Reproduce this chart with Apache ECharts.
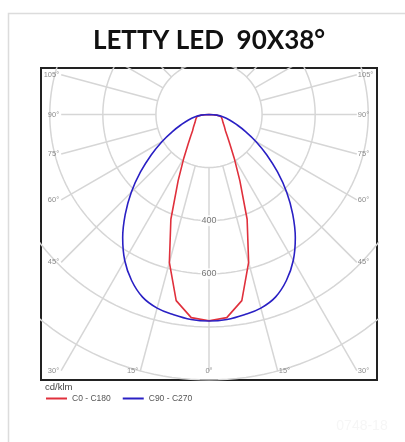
<!DOCTYPE html>
<html>
<head>
<meta charset="utf-8">
<script src="https://cdn.jsdelivr.net/npm/echarts@6/dist/echarts.min.js"></script>
<style>
  html, body { margin: 0; padding: 0; background: #fff; }
  #chart { width: 405px; height: 442px; }
</style>
</head>
<body>
<div id="chart"></div>
<script>
// angles from nadir, degrees
const angles = [0, 5, 10, 15, 20, 25, 30, 35, 40, 45, 50, 55, 60, 65, 70, 75, 80, 85, 90];
// cd/klm
const c0   = [777, 768, 712, 577, 420, 275, 190, 138, 108, 88, 77, 68, 61, 57, 53, 50, 46, 30, 0];
const c180 = [777, 768, 712, 577, 420, 275, 190, 138, 108, 88, 77, 68, 61, 57, 53, 50, 46, 30, 0];
const c90  = [778, 775, 766, 755, 732, 690, 635, 567, 491, 414, 337, 266, 205, 152, 110, 80, 55, 30, 0];
const c270 = [778, 775, 766, 755, 732, 690, 635, 567, 491, 414, 337, 266, 205, 152, 110, 80, 55, 30, 0];

const rings = [200, 400, 600, 800, 1000];
const ringLabels = [400, 600];
const spokes = [0, 15, 30, 45, 60, 75, 90, 105, 120, 135, 150, 165, 180];
const angleTicks = [0, 15, 30, 45, 60, 75, 90, 105];

const RED = '#e0303c';
const BLUE = '#2a20c4';
const GRIDC = '#d6d6d6';

// where spokes stop (label spot), in cd/klm
const XLIM = 557, YLIM = 967;

function rad(a) { return a * Math.PI / 180; }
function pt(r, a, side) { return [side * r * Math.sin(rad(a)), -r * Math.cos(rad(a))]; }

// one curve through both half planes
function curve(left, right) {
    let out = [];
    for (let i = angles.length - 1; i >= 0; i--) out.push(pt(left[i], angles[i], -1));
    for (let i = 1; i < angles.length; i++) out.push(pt(right[i], angles[i], 1));
    return out;
}

function spokeEnd(a) {
    let s = Math.abs(Math.sin(rad(a))), c = Math.cos(rad(a));
    let t = 3000;
    if (s > 1e-6) t = Math.min(t, XLIM / s);
    if (c > 1e-6) t = Math.min(t, YLIM / c);
    return t;
}

let series = [];

// rings
rings.forEach(function (R) {
    let d = [];
    for (let a = 0; a <= 360; a += 2) d.push(pt(R, a, 1));
    series.push({
        type: 'line', data: d, showSymbol: false, silent: true, z: 1,
        lineStyle: { color: GRIDC, width: 1.5 }
    });
});

// spokes from the inner ring outwards
spokes.forEach(function (a) {
    [-1, 1].forEach(function (side) {
        if ((a === 0 || a === 180) && side === -1) return;
        series.push({
            type: 'line', showSymbol: false, silent: true, z: 1,
            data: [pt(rings[0], a, side), pt(spokeEnd(a), a, side)],
            lineStyle: { color: GRIDC, width: 1.5 }
        });
    });
});

series.push({
    name: 'C0 - C180', type: 'line', data: curve(c180, c0), showSymbol: false, z: 3,
    lineStyle: { color: RED, width: 1.6 }, itemStyle: { color: RED }
});
series.push({
    name: 'C90 - C270', type: 'line', data: curve(c270, c90), showSymbol: false, z: 4,
    smooth: 0.4,
    lineStyle: { color: BLUE, width: 1.6 }, itemStyle: { color: BLUE }
});

// angle labels at the spoke ends
let tickData = [];
angleTicks.forEach(function (a) {
    let t = spokeEnd(a);
    if (a === 0) {
        tickData.push({ value: pt(t, a, 1), name: a + '°', label: { position: 'inside' } });
        return;
    }
    tickData.push({ value: pt(t, a, -1), name: a + '°', label: { position: 'left', distance: 2 } });
    tickData.push({ value: pt(t, a, 1), name: a + '°', label: { position: 'right', distance: 1 } });
});
series.push({
    type: 'scatter', data: tickData, symbolSize: 0, silent: true, z: 5,
    label: {
        show: true, formatter: '{b}', color: '#707070', fontSize: 7.5,
        fontFamily: 'Liberation Sans'
    }
});

// ring values
series.push({
    type: 'scatter', symbolSize: 0, silent: true, z: 5,
    data: ringLabels.map(function (v) { return { value: [0, -v], name: String(v) }; }),
    label: {
        show: true, position: 'inside', formatter: '{b}', color: '#555', fontSize: 9,
        fontFamily: 'Liberation Sans', backgroundColor: '#fff', padding: [1, 1]
    }
});

let chart = echarts.init(document.getElementById('chart'), null, { renderer: 'canvas' });

let option = {
    animation: false,
    backgroundColor: '#fff',
    grid: {
        left: 41, top: 68, width: 336, height: 312,
        show: true, borderColor: '#222', borderWidth: 2, backgroundColor: '#fff'
    },
    xAxis: { type: 'value', min: -633, max: 633, show: false },
    yAxis: { type: 'value', min: -1000, max: 175, show: false },
    legend: {
        data: ['C0 - C180', 'C90 - C270'],
        left: 41, top: 389, icon: 'rect', itemWidth: 21, itemHeight: 2, itemGap: 12,
        textStyle: { color: '#555', fontSize: 8.5, fontFamily: 'Liberation Sans' }
    },
    graphic: [
        {
            type: 'rect', silent: true, z: -1,
            shape: { x: 8.5, y: 13.5, width: 420, height: 460 },
            style: { fill: null, stroke: '#dcdcdc', lineWidth: 1.5 }
        },
        {
            type: 'text', x: 209, y: 41, silent: true,
            style: {
                text: 'LETTY LED  90X38°', fill: '#111', font: 'bold 26px Lato',
                textAlign: 'center', textVerticalAlign: 'middle'
            }
        },
        {
            type: 'text', x: 45, y: 387, silent: true,
            style: {
                text: 'cd/klm', fill: '#444', font: '9.5px "Liberation Sans"',
                textAlign: 'left', textVerticalAlign: 'middle'
            }
        },
        {
            type: 'text', x: 362, y: 426, silent: true,
            style: {
                text: '0748-18', fill: '#f6f6f6', font: '14px "Liberation Sans"',
                textAlign: 'center', textVerticalAlign: 'middle'
            }
        }
    ],
    series: series
};

chart.setOption(option);
</script>
</body>
</html>
